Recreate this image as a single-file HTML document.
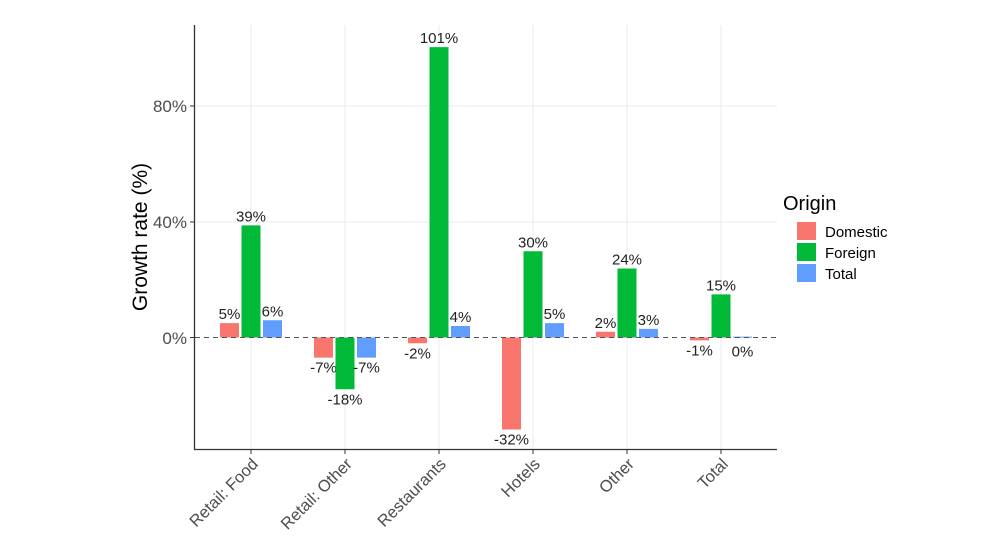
<!DOCTYPE html>
<html><head><meta charset="utf-8"><style>body{margin:0;background:#fff}svg{display:block}text{font-family:"Liberation Sans",Arial,sans-serif}</style></head>
<body>
<svg id="s" width="1000" height="560" viewBox="0 0 1000 560" xmlns="http://www.w3.org/2000/svg">
<g stroke="#ebebeb" stroke-width="1">
<line x1="195" x2="777" y1="106" y2="106"/><line x1="195" x2="777" y1="222" y2="222"/>
</g>
<g id="vg" stroke="#ebebeb" stroke-width="1"></g>
<g id="bars"></g>
<line x1="195" x2="777" y1="337.5" y2="337.5" stroke="#555" stroke-dasharray="5,4" stroke-width="1"/>
<line x1="194.5" x2="194.5" y1="25" y2="450" stroke="#333" stroke-width="1.3"/>
<line x1="194" x2="777" y1="449.5" y2="449.5" stroke="#333" stroke-width="1.3"/>
<g font-size="17" fill="#4d4d4d" text-anchor="end">
<text x="187" y="112">80%</text><text x="187" y="228">40%</text><text x="187" y="344">0%</text>
</g>
<g stroke="#333"><line x1="190" x2="194" y1="106" y2="106"/><line x1="190" x2="194" y1="222" y2="222"/><line x1="190" x2="194" y1="337.5" y2="337.5"/></g>
<text transform="translate(147,237) rotate(-90)" font-size="21" text-anchor="middle" fill="#000">Growth rate (%)</text>
<g id="xl" font-size="16.5" fill="#4d4d4d" text-anchor="end"></g>
<text x="783" y="210" font-size="20" fill="#000">Origin</text>
<rect x="797" y="222" width="19" height="18" fill="#F8766D"/>
<rect x="797" y="243" width="19" height="18" fill="#00BA38"/>
<rect x="797" y="264" width="19" height="18" fill="#619CFF"/>
<g font-size="15" fill="#000"><text x="825" y="237">Domestic</text><text x="825" y="258">Foreign</text><text x="825" y="279">Total</text></g>
</svg>
<script>
var ns="http://www.w3.org/2000/svg";
var cats=["Retail: Food","Retail: Other","Restaurants","Hotels","Other","Total"];
var vals=[[5,39,6],[-7,-18,-7],[-2,101,4],[-32,30,5],[2,24,3],[-1,15,0.3]];
var labs=[["5%","39%","6%"],["-7%","-18%","-7%"],["-2%","101%","4%"],["-32%","30%","5%"],["2%","24%","3%"],["-1%","15%","0%"]];
var cols=["#F8766D","#00BA38","#619CFF"];
var b=document.getElementById("bars"),vg=document.getElementById("vg"),xl=document.getElementById("xl");
function el(t,a,p){var e=document.createElementNS(ns,t);for(var k in a)e.setAttribute(k,a[k]);p.appendChild(e);return e;}
var z=337.5,sc=2.875;
for(var i=0;i<6;i++){
 var c=251+94*i;
 el("line",{x1:c,x2:c,y1:25,y2:449},vg);
 el("line",{x1:c,x2:c,y1:450,y2:454,stroke:"#333"},b);
 var t=el("text",{transform:"translate("+(c+8)+",465) rotate(-45)"},xl);t.textContent=cats[i];
 for(var j=0;j<3;j++){
  var v=vals[i][j],x=c-31+j*21.5,h=Math.abs(v)*sc;
  el("rect",{x:x,y:v>=0?z-h:z,width:19,height:Math.max(h,1),fill:cols[j]},b);
  var ty=v>=0?z-h-4:z+h+15;
  if(i==5&&j==2)ty=z+19;
  var tt=el("text",{x:x+9.5,y:ty,"font-size":15,"text-anchor":"middle",fill:"#222"},b);tt.textContent=labs[i][j];
 }
}
</script>
</body></html>
